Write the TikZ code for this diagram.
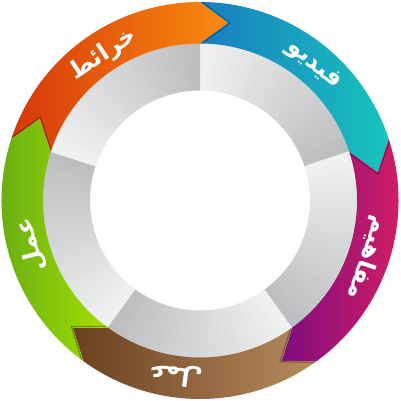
\documentclass[tikz,border=0pt]{standalone}
\usepackage{fontspec}
\newfontfamily\arabicfont[Script=Arabic]{DejaVu Sans}
\TeXXeTstate=1
\definecolor{gl}{HTML}{F1F2F2}
\definecolor{gd}{HTML}{BCBDBF}
\definecolor{orL}{HTML}{D6380A}
\definecolor{orR}{HTML}{FA8C0E}
\definecolor{blL}{HTML}{1A7CC0}
\definecolor{blR}{HTML}{17C4BE}
\definecolor{mgL}{HTML}{800C80}
\definecolor{mgR}{HTML}{DA2060}
\definecolor{brL}{HTML}{6A4020}
\definecolor{brR}{HTML}{B88C5E}
\definecolor{gnL}{HTML}{60A812}
\definecolor{gnR}{HTML}{A4DE04}
\tikzset{
  lbl/.style={text=white, font=\arabicfont\bfseries\fontsize{24}{24}\selectfont, inner sep=0pt},
  tipshadow/.style={draw=black, draw opacity=0.3, line width=1.2pt, line join=round}
}
\newcommand{\Ro}{198.5}
\newcommand{\Rm}{157}
\newcommand{\Ri}{110}
\newcommand{\Rt}{180}
\newcommand{\segpath}[1]{%
  (#1+72:\Ro pt) arc[start angle=#1+72, end angle=#1, radius=\Ro pt]
  -- (#1-9:\Rt pt) -- (#1:\Rm pt)
  arc[start angle=#1, end angle=#1+72, radius=\Rm pt]
  -- (#1+72-9:\Rt pt) -- cycle}
\begin{document}
\begin{tikzpicture}
\useasboundingbox (-200pt,-200.5pt) rectangle (200pt,200.5pt);
\fill[white] (-200pt,-200.5pt) rectangle (200pt,200.5pt);
% grey inner ring
\foreach \a in {18,90,162,234,306}{
  \foreach \k in {0,...,23}{
    \pgfmathsetmacro{\s}{\a+3*\k}
    \pgfmathsetmacro{\t}{\a+3*\k+3.3}
    \pgfmathsetmacro{\p}{100*(\k+0.5)/24}
    \fill[gl!\p!gd] (\s:\Ri pt) arc[start angle=\s, end angle=\t, radius=\Ri pt]
      -- (\t:160pt) arc[start angle=\t, end angle=\s, radius=160pt] -- cycle;
  }
}
% coloured arrow band
\shade[left color=orL, right color=orR] \segpath{90};
\shade[left color=blL, right color=blR] \segpath{18};
\shade[left color=mgL, right color=mgR] \segpath{-54};
\shade[left color=brL, right color=brR] \segpath{-126};
\shade[left color=gnL, right color=gnR] \segpath{162};
% tip shadows
\foreach \b in {90,18,-54,-126,162}{
  \draw[tipshadow] (\b-0.6:\Ro pt) -- (\b-9.6:\Rt pt) -- (\b-0.6:\Rm pt);
}
% labels
\node[lbl, rotate=33.5] (maps) at (123.5:175pt) {\beginR خرائط\endR};
\node[lbl, rotate=-40] (video) at (50:177pt) {\beginR فيديو\endR};
\node[lbl, rotate=-109] (concepts) at (-19:177pt) {\beginR مفاهيم\endR};
\node[lbl, rotate=172] (work) at (262:176pt) {\beginR عمل\endR};
\node[lbl, rotate=104.7] (work2) at (194.7:175pt) {\beginR عمل\endR};
\end{tikzpicture}
\end{document}
